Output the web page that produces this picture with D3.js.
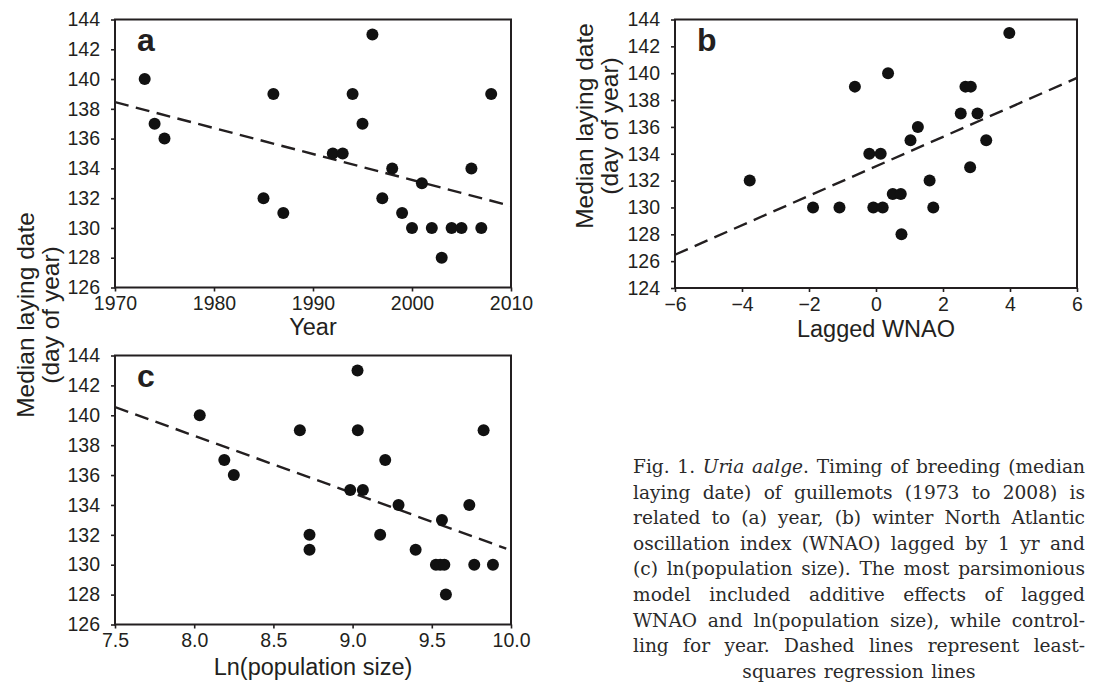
<!DOCTYPE html>
<html>
<head>
<meta charset="utf-8">
<script src="https://cdn.jsdelivr.net/npm/d3@7/dist/d3.min.js"></script>
<style>
  html, body { margin: 0; padding: 0; background: #ffffff; }
  svg { display: block; }
</style>
</head>
<body>
<svg id="chart" width="1101" height="683"></svg>
<script>
// ---------------- DATA ----------------
// Panel a: year vs median laying date
const yearA = [1973,1974,1975,1985,1986,1987,1992,1993,1994,1995,1996,1997,1998,1999,2000,2001,2002,2003,2004,2005,2006,2007,2008];
const dateA = [140,137,136,132,139,131,135,135,139,137,143,132,134,131,130,133,130,128,130,130,134,130,139];
// Panel b: lagged WNAO vs median laying date
const wnaoB = [-3.77,-1.88,-1.09,-0.63,-0.20,0.14,-0.08,0.20,0.36,0.50,0.74,0.76,1.03,1.25,1.60,1.71,2.53,2.67,2.83,2.81,3.03,3.29,3.98];
const dateB = [132,130,130,139,134,134,130,130,140,131,131,128,135,136,132,130,137,139,139,133,137,135,143];
// Panel c: ln(population size) vs median laying date
const lnpopC = [8.035,8.19,8.25,8.667,8.728,8.728,9.031,9.033,8.985,9.065,9.206,9.174,9.29,9.398,9.526,9.553,9.579,9.564,9.589,9.737,9.768,9.827,9.886];
const dateC = [140,137,136,139,132,131,143,139,135,135,137,132,134,131,130,130,130,133,128,134,130,139,130];
// Regression line end points
const regAx = [1970, 2010],  regAy = [138.45, 131.48];
const regBx = [-6, 6],       regBy = [126.48, 139.65];
const regCx = [7.5, 9.97],   regCy = [140.55, 131.08];
// Tick values
const ticksAx = [1970,1980,1990,2000,2010];
const ticksBx = [-6,-4,-2,0,2,4,6];
const ticksCx = [7.5,8.0,8.5,9.0,9.5,10.0];
const ticksAy = [126,128,130,132,134,136,138,140,142,144];
const ticksBy = [124,126,128,130,132,134,136,138,140,142,144];
const ticksCy = [126,128,130,132,134,136,138,140,142,144];
// Texts
const xTitleA = "Year", xTitleB = "Lagged WNAO", xTitleC = "Ln(population size)";
const yTitle = ["Median laying date", "(day of year)"];
const captionLines = [
  [["Fig."],["1."],[["Uria",1]],[["aalge",1],"."],["Timing"],["of"],["breeding"],["(median"]],
  [["laying"],["date)"],["of"],["guillemots"],["(1973"],["to"],["2008)"],["is"]],
  [["related"],["to"],["(a)"],["year,"],["(b)"],["winter"],["North"],["Atlantic"]],
  [["oscillation"],["index"],["(WNAO)"],["lagged"],["by"],["1"],["yr"],["and"]],
  [["(c)"],["ln(population"],["size)."],["The"],["most"],["parsimonious"]],
  [["model"],["included"],["additive"],["effects"],["of"],["lagged"]],
  [["WNAO"],["and"],["ln(population"],["size),"],["while"],["control-"]],
  [["ling"],["for"],["year."],["Dashed"],["lines"],["represent"],["least-"]],
  [["squares"],["regression"],["lines"]]
];

// ---------------- DRAWING ----------------
const svg = d3.select("#chart");
const INK = "#231f20";
const SANS = "'Liberation Sans', Arial, Helvetica, sans-serif";

function panel(cfg) {
  const x = d3.scaleLinear().domain(cfg.xDomain).range([cfg.x0, cfg.x1]);
  const y = d3.scaleLinear().domain(cfg.yDomain).range([cfg.y1, cfg.y0]);
  const g = svg.append("g");

  const clipId = "clip" + cfg.letter;
  svg.append("clipPath").attr("id", clipId).append("rect")
    .attr("x", cfg.x0).attr("y", cfg.y0).attr("width", cfg.x1 - cfg.x0).attr("height", cfg.y1 - cfg.y0);

  // axes
  const ax = g.append("g").attr("transform", `translate(0,${cfg.y1})`)
    .call(d3.axisBottom(x).tickValues(cfg.xTicks).tickSize(4).tickPadding(5).tickFormat(cfg.xFmt));
  const ay = g.append("g").attr("transform", `translate(${cfg.x0},0)`)
    .call(d3.axisLeft(y).tickValues(cfg.yTicks).tickSize(4).tickPadding(11).tickFormat(d3.format("d")));
  [ax, ay].forEach(a => {
    a.select(".domain").remove();
    a.selectAll(".tick line").attr("stroke", INK).attr("stroke-width", 1.6);
    a.selectAll(".tick text").attr("fill", INK).style("font-family", SANS).style("font-size", "19.5px");
  });

  // regression line
  const lineData = cfg.regX.map((v, i) => [v, cfg.regY[i]]);
  g.append("path")
    .attr("d", d3.line().x(d => x(d[0])).y(d => y(d[1]))(lineData))
    .attr("fill", "none").attr("stroke", INK).attr("stroke-width", 2.4)
    .attr("stroke-dasharray", "14,7.5")
    .attr("clip-path", `url(#${clipId})`);

  // points
  g.selectAll("circle.pt").data(cfg.xs.map((v, i) => [v, cfg.ys[i]]))
    .join("circle").attr("class", "pt")
    .attr("cx", d => x(d[0])).attr("cy", d => y(d[1])).attr("r", 6)
    .attr("fill", "#111");

  // frame
  g.append("rect").attr("x", cfg.x0).attr("y", cfg.y0)
    .attr("width", cfg.x1 - cfg.x0).attr("height", cfg.y1 - cfg.y0)
    .attr("fill", "none").attr("stroke", INK).attr("stroke-width", 2);

  // panel letter
  g.append("text").attr("x", cfg.x0 + 22).attr("y", cfg.y0 + 31)
    .text(cfg.letter).attr("fill", INK)
    .style("font-family", SANS).style("font-weight", "bold").style("font-size", "32px");

  // x title
  g.append("text").attr("x", (cfg.x0 + cfg.x1) / 2).attr("y", cfg.y1 + cfg.titleGap)
    .attr("text-anchor", "middle").text(cfg.xTitle).attr("fill", INK)
    .style("font-family", SANS).style("font-size", "23.5px");
}

panel({letter: "a", x0: 115, x1: 511, y0: 19.5, y1: 287.5, titleGap: 47,
  xDomain: [1970, 2010], yDomain: [126, 144], xTicks: ticksAx, yTicks: ticksAy,
  xFmt: d3.format("d"), xs: yearA, ys: dateA, regX: regAx, regY: regAy, xTitle: xTitleA});
panel({letter: "b", x0: 675, x1: 1077, y0: 19.5, y1: 288, titleGap: 49,
  xDomain: [-6, 6], yDomain: [124, 144], xTicks: ticksBx, yTicks: ticksBy,
  xFmt: d3.format("d"), xs: wnaoB, ys: dateB, regX: regBx, regY: regBy, xTitle: xTitleB});
panel({letter: "c", x0: 115, x1: 511, y0: 355.5, y1: 624.5, titleGap: 50,
  xDomain: [7.5, 10], yDomain: [126, 144], xTicks: ticksCx, yTicks: ticksCy,
  xFmt: d3.format(".1f"), xs: lnpopC, ys: dateC, regX: regCx, regY: regCy, xTitle: xTitleC});

// y titles
function yTitleAt(tx, ty) {
  const t = svg.append("text").attr("transform", `translate(${tx},${ty}) rotate(-90)`)
    .attr("text-anchor", "middle").attr("fill", INK)
    .style("font-family", SANS).style("font-size", "24.5px");
  yTitle.forEach((s, i) => t.append("tspan").attr("x", 0).attr("y", i * 24.5).text(s));
}
yTitleAt(34, 315);
yTitleAt(593, 126);

// caption (justified)
const capX0 = 633, capX1 = 1085, capY0 = 473, capLH = 25.6;
const SERIF = "'DejaVu Serif', 'Liberation Serif', serif";
captionLines.forEach((words, li) => {
  const yy = capY0 + li * capLH;
  const nodes = words.map(w => {
    const t = svg.append("text").attr("y", yy).attr("fill", "#2a2a2a")
      .style("font-family", SERIF).style("font-size", "18.6px");
    w.forEach(seg => {
      const s = typeof seg === "string" ? [seg, 0] : seg;
      t.append("tspan").text(s[0]).style("font-style", s[1] ? "italic" : "normal");
    });
    return t;
  });
  const widths = nodes.map(n => n.node().getComputedTextLength());
  const total = d3.sum(widths);
  const last = li === captionLines.length - 1;
  let gap, xStart;
  if (last) {
    gap = 7.5;
    xStart = (capX0 + capX1) / 2 - (total + gap * (nodes.length - 1)) / 2;
  } else {
    gap = Math.max(3, (capX1 - capX0 - total) / (nodes.length - 1));
    xStart = capX0;
  }
  let cx = xStart;
  nodes.forEach((n, i) => { n.attr("x", cx); cx += widths[i] + gap; });
});
</script>
</body>
</html>
